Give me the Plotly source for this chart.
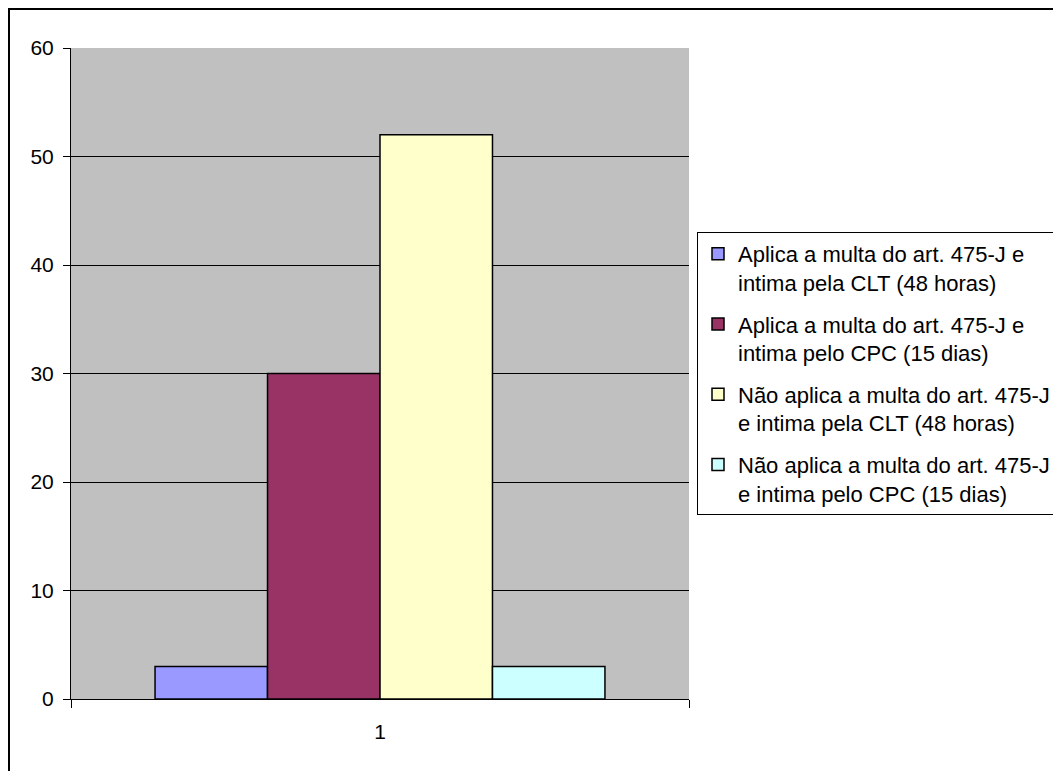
import plotly.graph_objects as go

categories = ["1"]
series_names = [
    "Aplica a multa do art. 475-J e<br>intima pela CLT (48 horas)",
    "Aplica a multa do art. 475-J e<br>intima pelo CPC (15 dias)",
    "Não aplica a multa do art. 475-J<br>e intima pela CLT (48 horas)",
    "Não aplica a multa do art. 475-J<br>e intima pelo CPC (15 dias)",
]
series_values = [[3], [30], [52], [3]]
series_colors = ["#9999FF", "#993366", "#FFFFCC", "#CCFFFF"]
y_ticks = [0, 10, 20, 30, 40, 50, 60]

# page offset of 8px (body margin) is compensated here
W, H = 1053, 763
L, R, T, B = 63, 681, 40, 691

fig = go.Figure()
for i, (name, vals, col) in enumerate(zip(series_names, series_values, series_colors)):
    fig.add_trace(go.Bar(
        x=categories, y=vals, name=name, legendgroup=f"g{i}",
        marker=dict(color=col, line=dict(color="black", width=1.5)),
    ))

tick_font = dict(family="Liberation Sans, Arial, sans-serif", size=21, color="black")
leg_font = dict(family="Liberation Sans, Arial, sans-serif", size=22, color="black")

fig.update_layout(
    width=W, height=H,
    margin=dict(l=L, r=W - R, t=T, b=H - B, pad=0, autoexpand=False),
    paper_bgcolor="white",
    plot_bgcolor="#C0C0C0",
    barmode="group",
    bargap=0.272,
    bargroupgap=0,
    font=tick_font,
    showlegend=True,
    legend=dict(
        xref="container", yref="container",
        x=689 / W, xanchor="left",
        y=1 - 224 / H, yanchor="top",
        bgcolor="white", bordercolor="black", borderwidth=1,
        font=leg_font, tracegroupgap=10, itemwidth=30, valign="top",
        traceorder="grouped",
    ),
    xaxis=dict(
        type="category", showgrid=False, showline=True, linecolor="black", linewidth=1,
        ticks="outside", tickson="boundaries", ticklen=8, tickcolor="black",
        tickfont=tick_font, zeroline=False, ticklabelstandoff=14,
    ),
    yaxis=dict(
        range=[0, 60], tickvals=y_ticks, showgrid=True, gridcolor="black", gridwidth=1,
        showline=True, linecolor="black", linewidth=1, ticks="outside", ticklen=7,
        tickcolor="black", tickfont=tick_font, zeroline=False, ticklabelstandoff=5,
    ),
    shapes=[
        dict(type="rect", xref="paper", yref="paper",
             x0=(1 - L) / (R - L), x1=(1080 - L) / (R - L),
             y0=(B - 790) / (B - T), y1=(B - 1) / (B - T),
             line=dict(color="black", width=2), fillcolor="rgba(0,0,0,0)", layer="above"),
    ],
)

fig.write_html("out.html")
